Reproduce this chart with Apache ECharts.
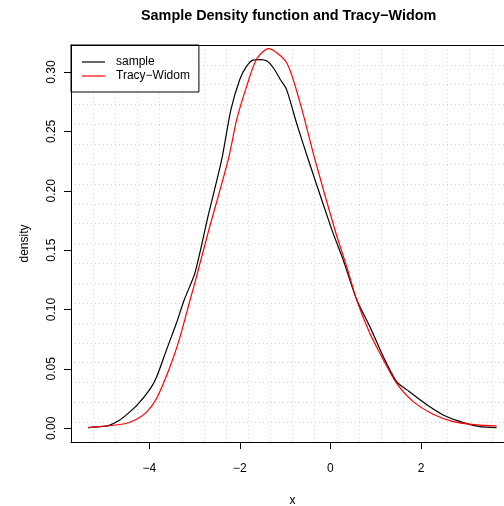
<!DOCTYPE html>
<html><head><meta charset="utf-8">
<script src="https://cdn.jsdelivr.net/npm/echarts@6/dist/echarts.min.js"></script>
<style>html,body{margin:0;padding:0;background:#fff}#c{width:504px;height:506px}</style>
</head><body><div id="c"></div><script>
// Sample kernel density (black)
const sampleX = [-5.35,-5.02,-4.9,-4.65,-4.5,-4.28,-3.985,-3.84,-3.62,-3.4,-3.23,-2.99,-2.7,-2.4,-2.2,-2.0,-1.85,-1.71,-1.55,-1.4,-1.25,-1.11,-0.97,-0.75,-0.49,0.03,0.28,0.58,0.87,1.2,1.46,1.69,2.13,2.49,2.94,3.3,3.67];
const sampleY = [0.0005,0.0015,0.0022,0.007,0.0115,0.019,0.033,0.043,0.066,0.0886,0.108,0.131,0.179,0.2264,0.268,0.294,0.305,0.3101,0.3105,0.3093,0.303,0.2939,0.2854,0.2573,0.2264,0.1673,0.142,0.1082,0.0857,0.0576,0.0393,0.0323,0.0197,0.0112,0.0047,0.0013,0.0005];
// Tracy-Widom density (red)
const twX = [-5.35,-4.8,-4.5,-4.28,-4.06,-3.84,-3.54,-3.32,-3.1,-2.99,-2.7,-2.255,-2.07,-1.85,-1.63,-1.37,-0.97,-0.67,-0.34,0.1,0.36,0.58,0.87,1.17,1.46,1.83,2.27,2.71,3.23,3.67];
const twY = [0.0005,0.0025,0.0042,0.0075,0.0135,0.025,0.052,0.077,0.108,0.123,0.165,0.2264,0.26,0.288,0.311,0.3198,0.308,0.274,0.226,0.167,0.136,0.108,0.08,0.0576,0.038,0.0224,0.0118,0.0056,0.0028,0.0019];
const xTicks = [-4,-2,0,2];
const yTicks = [0,0.05,0.1,0.15,0.2,0.25,0.3];
const xRange = [-5.729, 4.054];
const yRange = [-0.0116, 0.3228];
const seriesNames = ['sample','Tracy\u2212Widom'];
const seriesColors = ['#000000','#ff0000'];
const titleText = 'Sample Density function and Tracy\u2212Widom';

const FONT = "'Liberation Sans', Arial, Helvetica, sans-serif";
const zip = (a,b)=>a.map((v,i)=>[v,b[i]]);
const chart = echarts.init(document.getElementById('c'), null, {renderer:'canvas'});
const gridLine = {show:true, lineStyle:{color:'#d3d3d3', width:1, type:[1,3]}};
const hidden = {axisLine:{show:false}, axisTick:{show:false}, axisLabel:{show:false}};
chart.setOption({
  animation:false,
  backgroundColor:'#fff',
  textStyle:{fontFamily:FONT},
  title:{text:titleText, left:136, top:4, textStyle:{fontFamily:FONT, fontSize:14.4, fontWeight:'bold', color:'#000'}},
  legend:{
    orient:'vertical', left:71, top:45, padding:[10,9,9,11], itemGap:0,
    itemWidth:23, itemHeight:1.2, icon:'rect', borderColor:'#000', borderWidth:1, backgroundColor:'#fff',
    textStyle:{fontFamily:FONT, fontSize:12, lineHeight:14, color:'#000', padding:[0,0,0,6]},
    data:seriesNames.map((n,i)=>({name:n, icon:'rect', itemStyle:{color:seriesColors[i]}}))
  },
  grid:{left:71, top:45, width:443, bottom:64, outerBoundsMode:'none', containLabel:false, show:false},
  xAxis:[{
    type:'value', min:xRange[0], max:xRange[1], position:'bottom',
    name:'x', nameLocation:'middle', nameGap:53, nameTextStyle:{fontFamily:FONT, fontSize:12, color:'#000'},
    axisLine:{show:true, onZero:false, lineStyle:{color:'#000'}},
    axisTick:{show:true, length:7, customValues:xTicks, lineStyle:{color:'#000'}},
    axisLabel:{customValues:xTicks, margin:21, fontFamily:FONT, fontSize:12, color:'#000', formatter:v=>String(v).replace('-','\u2212')},
    splitLine:{show:false}, z:5
  },{
    type:'value', min:xRange[0], max:xRange[1], interval:(xRange[1]-xRange[0])/20, position:'bottom',
    ...hidden, splitLine:gridLine, z:0
  },{
    type:'value', min:xRange[0], max:xRange[1], position:'top',
    axisLine:{show:true, onZero:false, lineStyle:{color:'#000'}}, axisTick:{show:false}, axisLabel:{show:false}, splitLine:{show:false}, z:5
  }],
  yAxis:[{
    type:'value', min:yRange[0], max:yRange[1],
    name:'density', nameLocation:'middle', nameGap:40, nameRotate:90, nameTextStyle:{fontFamily:FONT, fontSize:12, color:'#000'},
    axisLine:{show:true, onZero:false, lineStyle:{color:'#000'}},
    axisTick:{show:true, length:7, customValues:yTicks, lineStyle:{color:'#000'}},
    axisLabel:{customValues:yTicks, rotate:90, margin:13, fontFamily:FONT, fontSize:12, color:'#000', formatter:v=>v.toFixed(2)},
    splitLine:{show:false}, z:5
  },{
    type:'value', min:yRange[0], max:yRange[1], interval:(yRange[1]-yRange[0])/20,
    ...hidden, splitLine:gridLine, z:0
  }],
  series:[
    {name:seriesNames[0], type:'line', data:zip(sampleX,sampleY), showSymbol:false, symbol:'none', smooth:0.25, color:seriesColors[0], lineStyle:{color:seriesColors[0], width:1.2}, z:3},
    {name:seriesNames[1], type:'line', data:zip(twX,twY), showSymbol:false, symbol:'none', smooth:0.25, color:seriesColors[1], lineStyle:{color:seriesColors[1], width:1.2}, z:4}
  ]
});
</script></body></html>
